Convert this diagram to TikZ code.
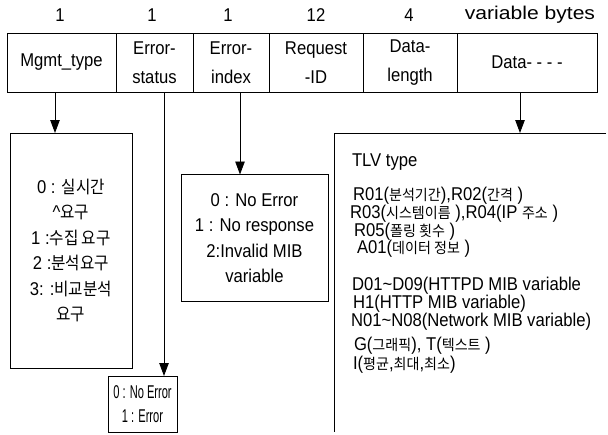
\documentclass[tikz,border=0pt]{standalone}
\usepackage{fontspec}
\setmainfont{Liberation Sans}[FakeStretch=0.9]
\newfontfamily\basefont{Liberation Sans}[FakeStretch=0.9]
\newfontfamily\kr{Noto Sans CJK KR}[FakeStretch=0.9,Scale=0.94]
\newfontfamily\krs{Noto Sans CJK KR}[FakeStretch=0.95,Scale=0.8]
\newfontfamily\narrowfont{Liberation Sans}[FakeStretch=0.6]
\newfontfamily\widefont{Liberation Sans}[FakeStretch=1.14]
\usetikzlibrary{arrows.meta}
\newcommand\K[1]{{\kr #1}}
\newcommand\Ks[1]{{\krs #1}}
\newcommand\fsA{\basefont\fontsize{18.5}{29}\selectfont}
\newcommand\fsB{\basefont\fontsize{18.5}{25.5}\selectfont}
\newcommand\fsC{\narrowfont\fontsize{18.5}{24}\selectfont}
\begin{document}
\begin{tikzpicture}[x=1pt,y=-1pt,
  every node/.style={inner sep=0pt,outer sep=0pt},
  ln/.style={line width=0.9pt},
  cell/.style={draw,ln,minimum height=59pt,align=center,font=\fsA},
  hdr/.style={font=\fsA},
  box/.style={draw,ln,align=center,font=\fsB},
  tlv/.style={anchor=base west,font=\fsB},
  arr/.style={ln,-{Triangle[length=13pt,width=9.5pt]}}]
\useasboundingbox (0,0) rectangle (608,434);
% table
\node[cell,minimum width=109pt] (c1) at (61.5,62.5) {Mgmt\_type};
\node[cell,minimum width=77pt]  (c2) at (154.5,62.5) {Error-\\status};
\node[cell,minimum width=76pt]  (c3) at (231,62.5) {Error-\\index};
\node[cell,minimum width=94pt]  (c4) at (316,62.5) {Request\\-ID};
\node[cell,minimum width=94pt]  (c5) at (410,62.5) {Data-\\length};
\node[cell,minimum width=140pt] (c6) at (527,62.5) {Data- - - -};
% header
\node[hdr] (h1) at (60,15) {1};
\node[hdr] (h2) at (152,15) {1};
\node[hdr] (h3) at (228,15) {1};
\node[hdr] (h4) at (316,15) {12};
\node[hdr] (h5) at (409,15) {4};
\node[hdr,font=\widefont\fontsize{18.5}{29}\selectfont] (h6) at (530,15) {variable bytes};
% boxes
\node[box,minimum width=122pt,minimum height=235pt] (mbox) at (71,250.5)
  {0 : \K{실시간}\\\textasciicircum\K{요구}\\1 :\K{수집 요구}\\2 :\K{분석요구}\\3: :\K{비교분석}\\\K{요구}};
\node[box,minimum width=147pt,minimum height=127pt] (ebox) at (254.5,238)
  {0 : No Error\\1 : No response\\2:Invalid MIB\\variable};
\node[box,font=\fsC,minimum width=69pt,minimum height=56pt] (sbox) at (142.5,404)
  {0 : No Error\\1 : Error};
% TLV open box
\coordinate (tl) at (334,133);
\coordinate (tr) at (606,133);
\coordinate (bl) at (334,432);
\draw[ln] (tr) -- (tl) -- (bl);
\coordinate (dx) at (520,133);
\node[tlv] (t1) at (352,166) {TLV type};
\node[tlv] (t2) at (353,200) {R01(\Ks{분석기간}),R02(\Ks{간격} )};
\node[tlv] (t3) at (350,218) {R03(\Ks{시스템이름} ),R04(IP \Ks{주소} )};
\node[tlv] (t4) at (354,236) {R05(\Ks{폴링 횟수} )};
\node[tlv] (t5) at (357,253) {A01(\Ks{데이터 정보} )};
\node[tlv] (t6) at (352,290) {D01\textasciitilde D09(HTTPD MIB variable};
\node[tlv] (t7) at (353,308) {H1(HTTP MIB variable)};
\node[tlv] (t8) at (351,326) {N01\textasciitilde N08(Network MIB variable)};
\node[tlv] (t9) at (354,350) {G(\Ks{그래픽}), T(\Ks{텍스트} )};
\node[tlv] (t10) at (353,369) {I(\Ks{평균},\Ks{최대},\Ks{최소})};
% arrows
\coordinate (a1) at (55,0);
\coordinate (a2) at (164,0);
\coordinate (a3) at (240,0);
\draw[arr] (a1 |- c1.south) -- (a1 |- mbox.north);
\draw[arr] (a2 |- c2.south) -- (a2 |- sbox.north);
\draw[arr] (a3 |- c3.south) -- (a3 |- ebox.north);
\draw[arr] (dx |- c6.south) -- (dx);
\end{tikzpicture}
\end{document}
